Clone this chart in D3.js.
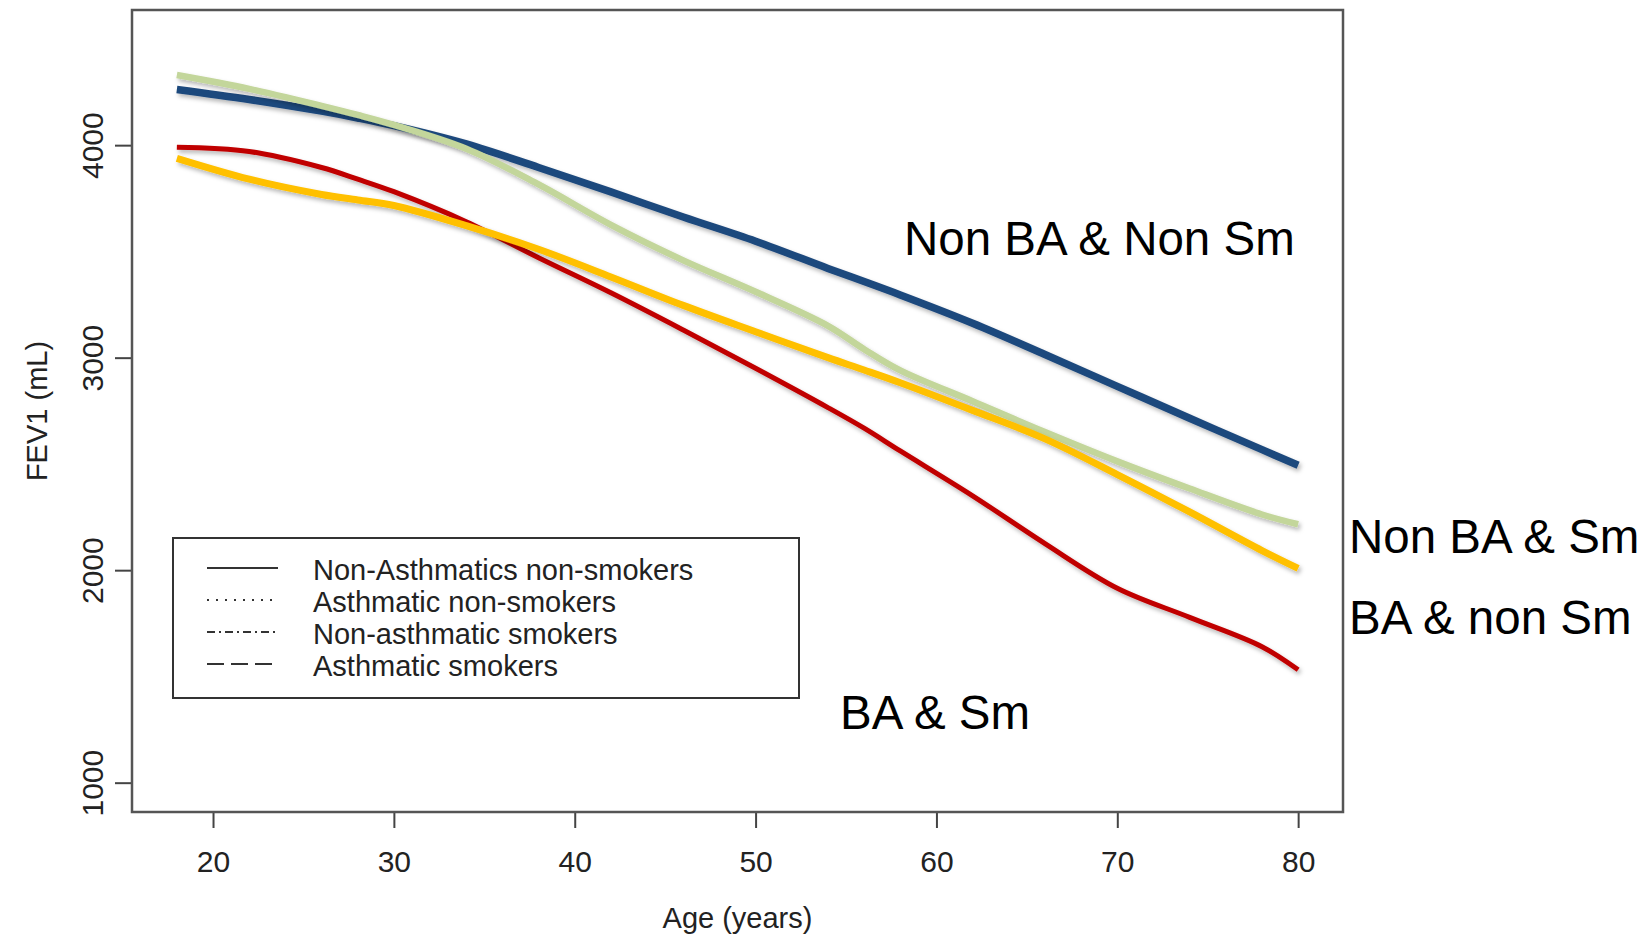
<!DOCTYPE html>
<html>
<head>
<meta charset="utf-8">
<style>
  body { margin: 0; background: #fff; }
  text { font-family: "Liberation Sans", Arial, Helvetica, sans-serif; }
</style>
</head>
<body>
<div id="container"></div>
<script src="https://d3js.org/d3.v7.min.js"></script>
<script>
// ages sampled along the fitted curves
var ages = [18, 22, 26, 28, 30, 34, 38, 42, 46, 50, 54, 56, 58, 62, 66, 70, 74, 78, 80];

var nonBaNonSm = [4262, 4215, 4160, 4128, 4092, 4006, 3895, 3780, 3662, 3548, 3420, 3358, 3295, 3162, 3015, 2865, 2715, 2567, 2494];
var nonBaSm    = [4330, 4265, 4185, 4142, 4095, 3983, 3815, 3625, 3458, 3310, 3150, 3040, 2940, 2795, 2650, 2512, 2384, 2262, 2216];
var baNonSm    = [3938, 3840, 3768, 3742, 3716, 3621, 3510, 3380, 3246, 3122, 3000, 2942, 2882, 2752, 2618, 2450, 2274, 2092, 2008];
var baSm       = [3990, 3970, 3895, 3840, 3781, 3640, 3470, 3305, 3130, 2950, 2765, 2668, 2561, 2350, 2125, 1915, 1778, 1640, 1531];

var xTicks = [20, 30, 40, 50, 60, 70, 80];
var yTicks = [1000, 2000, 3000, 4000];

var legendLabels = ["Non-Asthmatics non-smokers", "Asthmatic non-smokers", "Non-asthmatic smokers", "Asthmatic smokers"];
var legendDash = ["none", "2,7", "8,4,2,4", "17,7"];

var width = 1652, height = 937;
var plot = {left: 132, top: 10, right: 1343, bottom: 812};

var svg = d3.select("#container").append("svg")
  .attr("width", width)
  .attr("height", height);

// soft shadow under the coloured curves
var defs = svg.append("defs");
defs.append("filter")
    .attr("id", "shadow")
    .attr("x", "-5%").attr("y", "-20%").attr("width", "110%").attr("height", "140%")
  .append("feDropShadow")
    .attr("dx", 2).attr("dy", 3)
    .attr("stdDeviation", 2)
    .attr("flood-color", "#000")
    .attr("flood-opacity", 0.28);

var x = d3.scaleLinear()
  .domain([15.52, 82.48])
  .range([plot.left, plot.right]);

var y = d3.scaleLinear()
  .domain([862, 4636])
  .range([plot.bottom, plot.top]);

// X axis
var xAxis = svg.append("g")
  .attr("transform", "translate(0," + plot.bottom + ")")
  .call(d3.axisBottom(x).tickValues(xTicks).tickSize(16).tickFormat(d3.format("d")));
xAxis.select(".domain").remove();
xAxis.selectAll("line").attr("stroke", "#444").attr("stroke-width", 2);
xAxis.selectAll("text")
  .attr("y", 60).attr("dy", null)
  .style("font-size", "30px")
  .attr("fill", "#222");

// Y axis, labels turned like base R
var yAxis = svg.append("g")
  .attr("transform", "translate(" + plot.left + ",0)")
  .call(d3.axisLeft(y).tickValues(yTicks).tickSize(17).tickFormat(d3.format("d")));
yAxis.select(".domain").remove();
yAxis.selectAll("line").attr("stroke", "#444").attr("stroke-width", 2);
yAxis.selectAll("text")
  .attr("x", 0).attr("y", 0).attr("dy", null)
  .attr("text-anchor", "middle")
  .attr("transform", "translate(-29,0) rotate(-90)")
  .style("font-size", "30px")
  .attr("fill", "#222");

// box
svg.append("rect")
  .attr("x", plot.left).attr("y", plot.top)
  .attr("width", plot.right - plot.left)
  .attr("height", plot.bottom - plot.top)
  .attr("fill", "none")
  .attr("stroke", "#555")
  .attr("stroke-width", 2.5);

// axis titles
svg.append("text")
  .attr("x", (plot.left + plot.right) / 2)
  .attr("y", 928)
  .attr("text-anchor", "middle")
  .style("font-size", "29px")
  .attr("fill", "#222")
  .text("Age (years)");

svg.append("text")
  .attr("text-anchor", "middle")
  .attr("transform", "translate(47," + (plot.top + plot.bottom) / 2 + ") rotate(-90)")
  .style("font-size", "29px")
  .attr("fill", "#222")
  .text("FEV1 (mL)");

// legend
var legend = svg.append("g");
legend.append("rect")
  .attr("x", 173).attr("y", 538)
  .attr("width", 626).attr("height", 160)
  .attr("fill", "#fff")
  .attr("stroke", "#333")
  .attr("stroke-width", 2);

legendLabels.forEach(function (lab, i) {
  var ly = 568 + i * 32;
  legend.append("line")
    .attr("x1", 207).attr("x2", 278)
    .attr("y1", ly).attr("y2", ly)
    .attr("stroke", "#333")
    .attr("stroke-width", 2)
    .attr("stroke-dasharray", legendDash[i]);
  legend.append("text")
    .attr("x", 313).attr("y", ly + 12)
    .style("font-size", "29px")
    .attr("fill", "#222")
    .text(lab);
});

// curves
var series = [
  {values: nonBaNonSm, color: "#1F497D", w: 7.5},
  {values: baSm,       color: "#C00000", w: 5},
  {values: nonBaSm,    color: "#C3D69B", w: 6.5},
  {values: baNonSm,    color: "#FFC000", w: 7}
];

var line = d3.line()
  .x(function (d) { return x(d[0]); })
  .y(function (d) { return y(d[1]); })
  .curve(d3.curveCatmullRom.alpha(0.5));

series.forEach(function (s) {
  svg.append("path")
    .datum(ages.map(function (a, i) { return [a, s.values[i]]; }))
    .attr("d", line)
    .attr("fill", "none")
    .attr("stroke", s.color)
    .attr("stroke-width", s.w)
    .attr("filter", "url(#shadow)");
});

// group labels
var notes = svg.append("g").style("font-size", "47.5px").attr("fill", "#000");
notes.append("text").attr("x", 904).attr("y", 255).text("Non BA & Non Sm");
notes.append("text").attr("x", 1349).attr("y", 553).text("Non BA & Sm");
notes.append("text").attr("x", 1349).attr("y", 634).text("BA & non Sm");
notes.append("text").attr("x", 840).attr("y", 729).text("BA & Sm");
</script>
</body>
</html>
